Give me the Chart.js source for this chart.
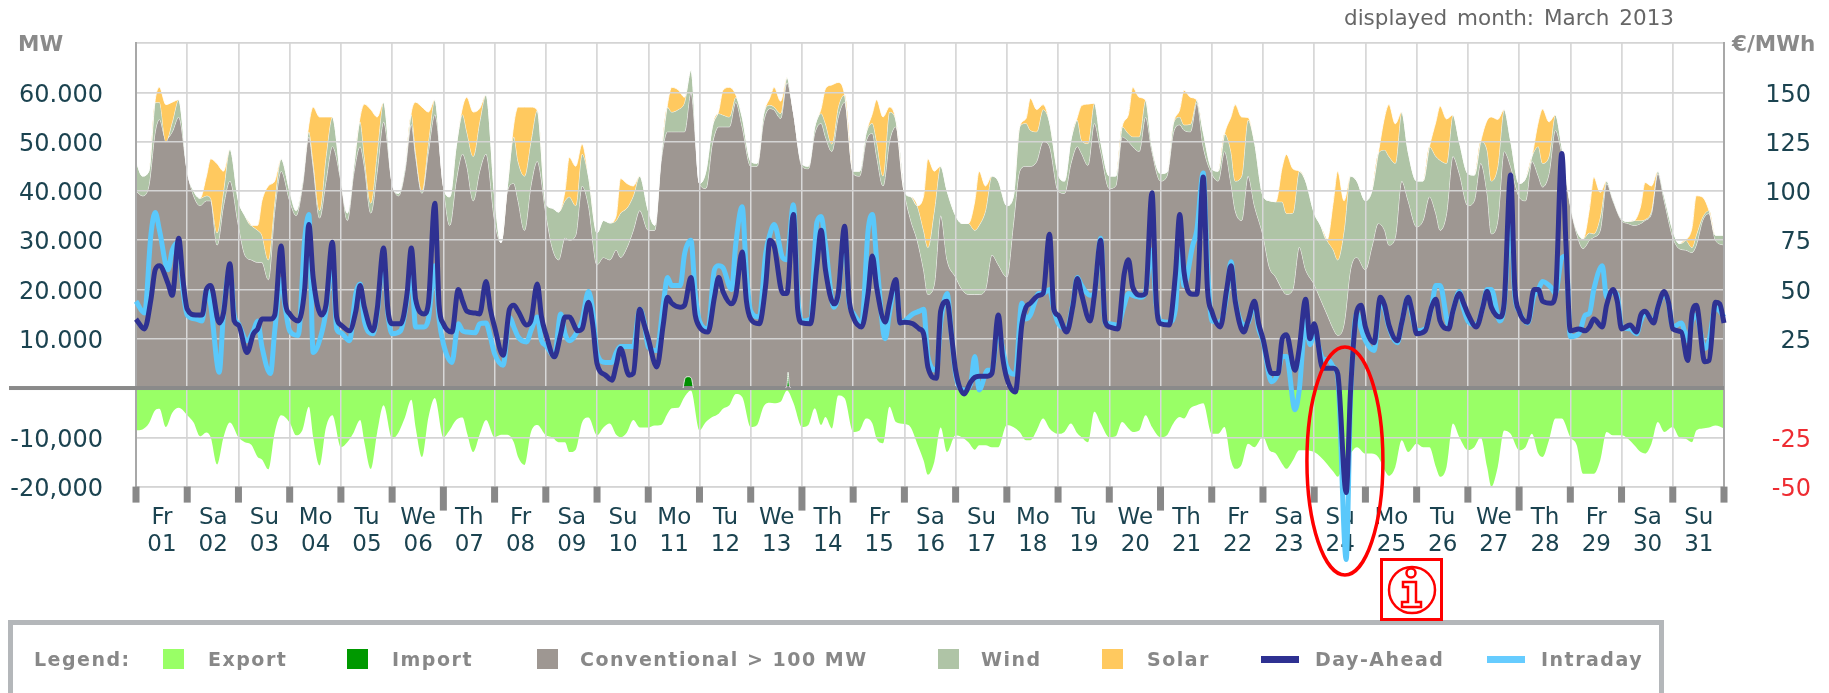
<!DOCTYPE html>
<html>
<head>
<meta charset="utf-8">
<title>displayed month: March 2013</title>
<script src="https://cdn.jsdelivr.net/npm/chart.js@4"></script>
<style>
  html, body { margin: 0; background: #fff; overflow: hidden; }
  #wrap { position: relative; width: 1829px; height: 693px; overflow: hidden; font-family: "DejaVu Sans", sans-serif; }
  canvas { position: absolute; left: 0; top: 0; }
  .lbl { position: absolute; white-space: pre; }
  .unit { font-weight: bold; font-size: 21.5px; color: #8a8a8a; top: 31px; }
  #month { left: 1344px; top: 5px; font-size: 21.5px; color: #666; word-spacing: 3px; }
  #legendBox { position: absolute; left: 8px; top: 620px; width: 1646px; height: 100px; border: 5px solid #b4b7ba; }
  .lg { font-weight: bold; font-size: 19px; color: #888; top: 648px; letter-spacing: 1.5px; }
  .sw { position: absolute; top: 649px; width: 21px; height: 20px; }
  .ln { position: absolute; top: 656px; width: 38px; height: 7px; }
  #info { position: absolute; left: 1380px; top: 558px; width: 63px; height: 63px; }
</style>
</head>
<body>
<div id="wrap">
  <canvas id="chart" width="1829" height="693"></canvas>
  <div class="lbl" id="month">displayed month: March 2013</div>
  <div class="lbl unit" style="left:18px">MW</div>
  <div class="lbl unit" style="left:1732px">€/MWh</div>

  <div id="legendBox"></div>
  <div class="lbl lg" style="left:34px">Legend:</div>
  <div class="sw" style="left:163px;background:#99ff66"></div><div class="lbl lg" style="left:208px">Export</div>
  <div class="sw" style="left:347px;background:#009900"></div><div class="lbl lg" style="left:392px">Import</div>
  <div class="sw" style="left:537px;background:#9e9792"></div><div class="lbl lg" style="left:580px">Conventional &gt; 100 MW</div>
  <div class="sw" style="left:938px;background:#afc4a6"></div><div class="lbl lg" style="left:981px">Wind</div>
  <div class="sw" style="left:1102px;background:#ffc95f"></div><div class="lbl lg" style="left:1147px">Solar</div>
  <div class="ln" style="left:1261px;background:#2e3192"></div><div class="lbl lg" style="left:1315px">Day-Ahead</div>
  <div class="ln" style="left:1487px;background:#66ccff"></div><div class="lbl lg" style="left:1541px">Intraday</div>

  <svg id="info" viewBox="0 0 63 63">
    <rect x="1.5" y="1.5" width="60" height="60" fill="#fff" fill-opacity="0.7" stroke="#f00" stroke-width="3"/>
    <circle cx="32" cy="32" r="23" fill="none" stroke="#f00" stroke-width="2.5"/>
    <circle cx="31" cy="15" r="4.5" fill="none" stroke="#f00" stroke-width="2.5"/>
    <path d="M23 24h13v20h5v5H22v-5h6V29h-5z" fill="none" stroke="#f00" stroke-width="2.5"/>
  </svg>
</div>

<script>
// day labels, one per tick
const dayNames = ['Fr','Sa','Su','Mo','Tu','We','Th','Fr','Sa','Su','Mo','Tu','We','Th','Fr','Sa','Su','Mo','Tu','We','Th','Fr','Sa','Su','Mo','Tu','We','Th','Fr','Sa','Su'];
const dayNums = ['01','02','03','04','05','06','07','08','09','10','11','12','13','14','15','16','17','18','19','20','21','22','23','24','25','26','27','28','29','30','31'];

// y axis labels (the source mixes . and ,)
const mwTicks = [-20000,-10000,10000,20000,30000,40000,50000,60000];
const mwLabels = ['-20,000','-10,000','10.000','20.000','30.000','40.000','50.000','60.000'];
const priceTicks = [-50,-25,25,50,75,100,125,150];

// hours of the day that the rows below were read at
const areaHours = [0,3,6,9,11,14,17,20];
const solarHours = [9,11,14,17];
const lineHours = [0,4,7,9,11,15,17,20,22];

// conventional generation, top of the grey area (GW), one row per day
const conventional = [
  40,39,41,52,54.5,50.5,52,55,
  44,39,37,38,38,29,37,42,
  33,27,26,25.5,25.5,22,36,44,
  38,35,41,51,45,34.5,42,49,
  42,34,43.5,49,45,35.5,44,54,
  41.5,39,44,53.5,47,39.5,48,55.5,
  41,33,42,47.5,45,38,44,47.5,
  34,29.5,40,41.5,38,32,41,46,
  35.5,28.5,26,30.5,30,31,41,37,
  25,26.5,26,28,26.5,28.5,32,36,
  32,32,46,52,52,52,52,60,
  41.5,40.5,49.5,53,53,53,58,53,
  45,45,54,56.7,56.4,54.7,62,56,
  45,44.5,51.7,53.7,51,48,55,58,
  43.5,43,50,51.7,47,41,50,53,
  39.8,34,30,24,19,21,35,26,
  22.5,20,19,19,19,20,27,25,
  22.5,33,44,45,45,46,50,49,
  40,39.5,45.5,49,47.6,45.2,53.7,48,
  40.5,41,51,50,49,48,55,48,
  42,43,51.7,53.4,52.3,52,57.8,49,
  43.5,42,48,41.5,36,34,43,37,
  31,24.5,22.5,20,19,20,28.6,24,
  21,18,15,12,10.7,13,24,26.5,
  24,28.6,33.4,32,29,30.6,42,38,
  32.7,34,38.8,35.4,32,35.4,47,43.5,
  37,38,45.6,39.5,31.3,34,48,45,
  38.8,38,46,43,40.8,43.5,52.3,47.6,
  37,31.3,28.3,30,30.6,32,41.5,38,
  34,33.4,33,33.4,34,35.4,43.5,38,
  30.6,28.3,28,27.5,29,34,35.4,30,
  29
];

// top of the wind band (GW)
const windTop = [
  46,43,44,58,58,50,54,58.5,
  44,40,38.5,39,38.5,31.5,40,48.5,
  38,35,33,32,31,26,38,46.5,
  40,36,42,52,46,36,47,55,
  42.5,35.5,45,54,47,37.5,48,58,
  41.5,39.5,45,55.5,48,40,50,58.5,
  41,38.8,49,55.5,52,47,54,59.5,
  39,29.5,41,51,46,43,50,56.4,
  37.5,36.5,35.7,38,38.8,37,47.5,43,
  31.5,34,33.5,34,35.5,36.5,39,43,
  36,33,47,57,56,56.5,58,64.5,
  41.5,44,53,55.7,55.4,55,59,55,
  46,45.6,55.5,57.4,57,55.7,63,56,
  45.5,45,53,55.7,53.7,49.5,57,59.5,
  44,44,51.6,53.7,50,43,56,54.4,
  39.8,38.8,37,32,28.5,36,45,40,
  35,33.4,33.4,32,33,36,43,42,
  37,38.8,53,53.7,52.3,52,56.5,54,
  43.5,42,50.3,54.4,50.3,49.6,57.8,50,
  43,43,53,51.6,51,51,58.4,49,
  43.5,43.8,53.7,55,53.4,53.5,58.4,52,
  44.5,44,51.6,48,42,43,54.4,50,
  39,38,37.8,37.8,35.4,35.5,44,42,
  35.5,33,30,28,26,32,43,42,
  38,40,47.6,48.3,47,45.6,56,48,
  42,42,49,47,46.2,45.6,55.4,50,
  43.5,43.2,50,48.3,42,45,56.5,50.3,
  41.5,42.5,47,49,45.6,47,55.4,49,
  37.4,32,30.3,31.5,31.3,34.7,42,38.4,
  34.3,33.8,34,34,34.2,36,44,39,
  32,29.3,30,28.5,31,34.7,36,31,
  31
];

// solar on top of wind (GW), at solarHours only
const solar = [
  0.5,3,7.5,4,
  4,8,14,4,
  1,7,15,4,
  1.5,11,19,8,
  1,10.6,19,7,
  0.5,10,17,6,
  1.5,7,9,2.7,
  2.5,11,14,7,
  2,8,8,2,
  1,7,5,2,
  0.5,5,4,1,
  0.5,5,6,0.5,
  1.5,4,2.5,0,
  1,7,12,5,
  2,8.5,12,1,
  7,18,8,0,
  6,11,5,0,
  1,6.5,4.5,1,
  0.5,7,8,0,
  4,10,8,0,
  1.5,7,5.5,0,
  7,15.5,12,0.5,
  7,12,9,0,
  10,18,6,0,
  6.7,10.5,8,0,
  7,11,9,0,
  6,13,9.5,0,
  5,11,7,0,
  5,11.5,5,0,
  3,7.5,5,0,
  4,8,4,0
];

// export, drawn below zero (GW)
const exportGW = [
  8.6,8.4,7.2,4.5,4.2,7.9,5,4,
  5.5,7,9.8,9,10,15.5,10,7,
  10,11,11.5,14,14.5,16.5,9,5.5,
  7,9.6,8.5,3.8,10,15.7,8,5.5,
  12,11,9,6.5,11,16.4,9,3.5,
  10.3,9,6,2.4,8,14,6,2,
  10,8.5,6.5,6,9,13,9.5,6.5,
  10,9.5,9.5,11,14,15.6,9,7.5,
  9.6,10,11,11,13,12.5,7,6,
  9.6,8,7.2,9.5,10,9,6.5,8,
  8,7.6,7.5,5.2,4.1,4,1.8,0.5,
  8.6,6.9,5.9,5.2,4.2,3.5,1.2,1.8,
  7.9,7.5,3.8,3,3.1,2.8,0.5,3,
  7.9,7.5,4.1,7.5,5.9,8.2,1.5,2.1,
  8.9,8.6,6.2,7.2,10.3,11.2,3.8,6.9,
  7.3,8,11.3,14.7,17.6,15,8,13,
  9.6,10,11,12.5,11.6,11.6,12,12,
  7.5,7.9,8.9,10.6,10.6,8.6,6.2,8.2,
  9.3,8.9,7.2,9.2,10,11,4.8,7.2,
  10,9.8,6.9,8.2,8.9,8.6,5.5,7.9,
  10,9.6,7.2,5.9,6.2,4.1,3.5,3.1,
  9.3,9.3,7.9,14.7,16.4,15.5,11.3,12,
  9.9,12.6,13.3,15.4,16.4,14.7,12.6,12.6,
  13,14,15.4,17,18,15.4,13.3,12,
  13.3,13.3,14,16.7,17.8,16,10.6,13,
  11.3,12,12,16,18,16,7.2,10,
  12.6,12,10,16,20,16,8.6,9.3,
  12.6,12,9.3,13.3,14,10.6,6.2,6.2,
  10,11.6,17.4,17.4,17.4,14.7,8.9,9.6,
  9.6,10.3,11.6,13,13.3,11.3,6.9,8.9,
  7.9,10,10.3,11,8.6,8.2,8,7.6,
  8.2
];

// import only shows on two afternoons (day position, GW), null keeps them apart
const importDays = [10.68,10.72,10.78,10.84,10.88,11.5,12.68,12.71,12.73,12.75,12.78];
const importGW = [0,2,2.3,2,0,null,0,0.7,3.2,0.7,0];

// day-ahead price (EUR/MWh)
const dayAhead = [
  35,30,45,60,62,53,47,76,55,
  40,37,37,50,52,33,38,63,34,
  32,18,27.5,30,35,35,37,72,43,
  37.6,34,50,83,56,37,42,74,36,
  32,29,39,52,41,29,40,71,40,
  32.6,32.6,48,71,45,37.6,43,93.7,42,
  32.6,28.4,50,44,39,38,37.6,54,40,
  31,16.6,40,42,39,32,34,52.7,36,
  27.5,15.8,27.5,36,36,29,30,43.5,32,
  12.4,6.5,4,11.6,20,6.5,7.4,40,32.6,
  25,10.7,32,46,43,41,42,56,37,
  31,28.4,46,56,49,42.7,47,69,44,
  35,32.6,52,75,72,48,48,88,40,
  33,32.6,62,80,60,42.7,48,82,46,
  36,31,48,67,51,33.5,43,55,33,
  33.4,32.6,30,27.5,10.7,4.9,39,44,27.5,
  9,-3,3,5.4,6,6,7.4,37,16,
  4.9,-2,32,41,43,47,48,78,40,
  37,28.4,42,55.6,47.6,34,47,75,34,
  31,30,58,65,51,47,48,99,44,
  32.6,32,58,88,59,47.6,47.6,107,50,
  39,31,50,62,44,28.4,34,44,32.6,
  25,7.4,7.4,25,27,9,20,45,25,
  32.6,10,10,10,7.4,-53,-2,39,42,
  31,23,46,42,32,24,33,46,38,
  27.5,29,41,45,34,30,39,48,43,
  37.6,31,41,49,41,36,43,108,51,
  39,33.4,50,50,44,43,47,119,72,
  29,30,29,31,35,31,42,50,44,
  30,32,28.4,37,39,33,41,49,43.5,
  30,28.4,14,37.6,42,13.3,14,43.5,42.7,
  33
];

// intraday price (EUR/MWh)
const intraday = [
  44,38,78,89,80,60,70,74,50,
  37,35,34,50,42,8,38,60,37,
  32.6,24,29,34,21,7.4,29,55,40,
  29,26.7,75,88,18,28,39,66,30,
  28,24,48,52.7,34,27.5,38,66,38,
  27.5,29,45,60,31,31,35,62,35,
  22.5,13,32.6,29,28.4,28,32.6,33,26,
  17.5,11.6,36,31,26,23.4,29,36,24,
  21.7,16,37.6,27.5,24,29,34,49,39,
  17.5,13,13,18,21,21,21,40,34,
  20.8,19,42,56,52,52,68,75,48,
  34,30,60,62,61,50,73,92,58,
  39,36,68,78,83,66,65,93,47,
  34,35,84,87,73,41,47,80,44,
  38,33,80,88,65,25,38,54,33,
  34,37.6,39,40,16,9,33,48,28,
  7,-1,2,16,-1,9,9,30,20,
  10.7,7,43,35,37,48,48,50,40,
  33,30,43,56,52,47,48,76,33,
  32.6,32,42,48,47,46,49,70,42,
  34,33.4,40,70,52,72,80,109,62,
  34,33.4,47,64,45,32,33,43,30,
  24,3.2,7.4,16,16,-11,-1,34,22,
  27.5,15,14,10.7,6,-87,-6,38,30,
  24,19,44,40,31,23,33,46,36,
  29,30,41,52,52,32,39,49,40,
  34,32,41,50,50,34,42,88,47,
  39,33,47,50,54,51,48,66,67,
  26,27.5,37,38,50,62,46,49,47,
  31,30,27.5,34,38,34,41,48,43,
  31,33,24,34,37,20,24,41,39,
  36
];

// turn a flat list read at fixed hours into {x,y} points, x counted in days
function toPoints(values, hours, factor) {
  return values.map((v, i) => {
    const day = Math.floor(i / hours.length);
    const hour = i % hours.length;
    return { x: i === values.length - 1 ? 31 : day + hours[hour] / 24, y: v * factor };
  });
}

const conventionalPts = toPoints(conventional, areaHours, 1000);
const windPts = toPoints(windTop, areaHours, 1000);
const exportPts = toPoints(exportGW, areaHours, -1000);
const importPts = importDays.map((d, i) => ({ x: d, y: importGW[i] === null ? null : importGW[i] * 1000 }));
const dayAheadPts = toPoints(dayAhead, lineHours, 1);
const intradayPts = toPoints(intraday, lineHours, 1);

// solar sits on top of wind, so add it to the wind top where it was read
const solarPts = windPts.map((p, i) => {
  const day = Math.floor(i / areaHours.length);
  const s = solarHours.indexOf(areaHours[i % areaHours.length]);
  return { x: p.x, y: s < 0 || day > 30 ? p.y : p.y + solar[day * solarHours.length + s] * 1000 };
});

const edge = 'rgba(255,255,255,0.85)';

// grid lines run over the areas but under the price lines
const overlays = {
  id: 'overlays',
  beforeDatasetDraw(chart, args) {
    if (args.index !== 4) return;
    const { ctx, chartArea, scales } = chart;
    scales.x.drawGrid(chartArea);
    scales.y.drawGrid(chartArea);
    scales.y.drawBorder();
    scales.y2.drawBorder();
    ctx.save();
    ctx.fillStyle = '#8a8a8a';
    ctx.fillRect(9, scales.y.getPixelForValue(0) - 2, chartArea.right - 9, 4);
    ctx.restore();
  },
  afterDatasetsDraw(chart) {
    const { ctx, chartArea, scales } = chart;
    // day marks under the axis, longer at the start of each Thursday
    ctx.save();
    ctx.fillStyle = '#888';
    for (let d = 0; d <= 31; d++) {
      const len = d % 7 === 6 ? 24 : 16;
      ctx.fillRect(scales.x.getPixelForValue(d) - 3.5, chartArea.bottom, 7, len);
    }
    // red ring round the negative prices on Sunday the 24th
    ctx.strokeStyle = '#f00';
    ctx.lineWidth = 3.5;
    ctx.beginPath();
    ctx.ellipse(scales.x.getPixelForValue(23.6), scales.y.getPixelForValue(-14800), 38, 114, 0, 0, Math.PI * 2);
    ctx.stroke();
    ctx.restore();
  }
};

const ctx = document.getElementById('chart').getContext('2d');
new Chart(ctx, {
  type: 'line',
  data: {
    datasets: [
      { label: 'Export', data: exportPts, backgroundColor: '#99ff66', fill: 'origin', borderWidth: 0, order: 6 },
      { label: 'Conventional > 100 MW', data: conventionalPts, backgroundColor: '#9e9792', borderColor: edge, borderWidth: 1, fill: 'origin', order: 5 },
      { label: 'Wind', data: windPts, backgroundColor: '#afc4a6', borderColor: edge, borderWidth: 1, fill: '-1', order: 4 },
      { label: 'Solar', data: solarPts, backgroundColor: '#ffc95f', borderColor: edge, borderWidth: 1, fill: '-1', order: 3 },
      { label: 'Import', data: importPts, backgroundColor: '#008f00', borderColor: edge, borderWidth: 1, fill: 'origin', order: 2 },
      { label: 'Intraday', data: intradayPts, yAxisID: 'y2', borderColor: '#5ac8fb', borderWidth: 5, fill: false, clip: false, order: 1 },
      { label: 'Day-Ahead', data: dayAheadPts, yAxisID: 'y2', borderColor: '#2e3192', borderWidth: 5, fill: false, clip: false, order: 0 }
    ]
  },
  options: {
    responsive: false,
    animation: false,
    events: [],
    elements: { point: { radius: 0 }, line: { cubicInterpolationMode: 'monotone', borderJoinStyle: 'round' } },
    layout: { padding: { top: 43, bottom: 126.4, left: 0, right: 18 } },
    plugins: { legend: { display: false }, tooltip: { enabled: false } },
    scales: {
      x: {
        type: 'linear',
        min: 0,
        max: 31,
        afterFit(scale) { scale.height = 80; scale.paddingLeft = 0; scale.paddingRight = 0; },
        grid: { color: '#d8d8d8', lineWidth: 1.5, drawTicks: false },
        border: { color: '#e2e2e2', width: 2 },
        ticks: {
          stepSize: 1,
          autoSkip: false,
          maxTicksLimit: 40,
          maxRotation: 0,
          padding: 18,
          labelOffset: 26,
          color: '#1b4350',
          font: { family: 'DejaVu Sans', size: 23, lineHeight: 1.17 },
          callback: (v) => (v < 31 ? [dayNames[v], dayNums[v]] : '')
        }
      },
      y: {
        min: -20000,
        max: 70000,
        afterFit(scale) { scale.width = 136; scale.paddingTop = 0; scale.paddingBottom = 0; },
        grid: { color: '#d4d4d4', lineWidth: 1.5, drawTicks: false },
        border: { color: '#a8a8a8', width: 2 },
        ticks: {
          stepSize: 10000,
          padding: 33,
          labelOffset: 3,
          color: '#1b4350',
          font: { family: 'DejaVu Sans', size: 24 },
          callback: (v) => (mwTicks.includes(v) ? mwLabels[mwTicks.indexOf(v)] : '')
        }
      },
      y2: {
        position: 'right',
        min: -50,
        max: 175,
        afterFit(scale) { scale.width = 87; scale.paddingTop = 0; scale.paddingBottom = 0; },
        grid: { display: false, drawTicks: false },
        border: { color: '#a8a8a8', width: 2 },
        ticks: {
          stepSize: 25,
          padding: 21,
          labelOffset: 3,
          crossAlign: 'far',
          color: (c) => (c.tick.value < 0 ? '#ee2c32' : '#1b4350'),
          font: { family: 'DejaVu Sans', size: 24 },
          callback: (v) => (priceTicks.includes(v) ? String(v) : '')
        }
      }
    }
  },
  plugins: [overlays]
});
</script>
</body>
</html>
